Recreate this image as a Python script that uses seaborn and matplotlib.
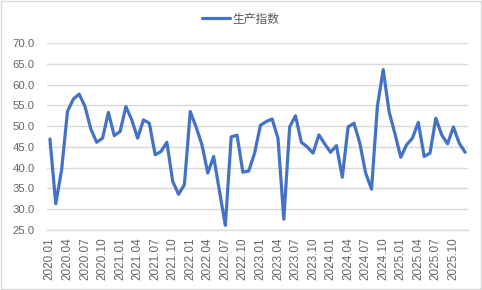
import numpy as np
import pandas as pd
import matplotlib
matplotlib.use("Agg")
import matplotlib.pyplot as plt
import seaborn as sns
from matplotlib.patches import Rectangle

# ---- data ----
months = [f"{y}.{m:02d}" for y in range(2020, 2026) for m in range(1, 13)]
values = [46.9, 31.3, 39.5, 53.5, 56.5, 57.7, 54.7, 49.3, 46.1, 47.1, 53.3, 47.7,
          48.7, 54.7, 51.5, 47.1, 51.5, 50.7, 43.1, 43.9, 46.1, 36.7, 33.6, 35.9,
          53.5, 49.8, 45.5, 38.7, 42.7, 34.3, 26.1, 47.4, 47.8, 38.9, 39.2, 43.5,
          50.2, 51.1, 51.7, 47.1, 27.6, 49.8, 52.5, 46.1, 45.0, 43.5, 47.9, 45.7,
          43.7, 45.3, 37.7, 49.8, 50.7, 45.9, 38.7, 34.8, 54.7, 63.6, 53.5, 48.2,
          42.5, 45.5, 47.1, 50.9, 42.7, 43.5, 51.9, 47.9, 45.7, 49.8, 45.9, 43.7]
series_name = "生产指数"
yticks = [25, 30, 35, 40, 45, 50, 55, 60, 65, 70]

df = pd.DataFrame({"idx": np.arange(len(months)), "month": months, "value": values})

sns.set_theme(style="white")
plt.rcParams["font.family"] = ["Liberation Sans", "Noto Sans CJK SC", "DejaVu Sans"]

fig = plt.figure(figsize=(4.82, 2.90), dpi=100)
ax = fig.add_axes([47 / 482, 1 - 230 / 290, (468 - 47) / 482, (230 - 43) / 290])

sns.lineplot(data=df, x="idx", y="value", ax=ax, color="#4472C4", linewidth=2.3,
             label=series_name, legend=False)

ax.set_xlim(-0.5, len(months) - 0.5)
ax.set_ylim(25, 70)
ax.set_yticks(yticks)
ax.set_yticklabels([f"{v:.1f}" for v in yticks])
tick_idx = list(range(0, len(months), 3))
ax.set_xticks(tick_idx)
ax.set_xticklabels([months[i] for i in tick_idx], rotation=90)
ax.set_xlabel("")
ax.set_ylabel("")

ax.grid(axis="y", color="#D9D9D9", linewidth=1.0)
ax.grid(axis="x", visible=False)
for s in ["left", "right", "top"]:
    ax.spines[s].set_visible(False)
ax.spines["bottom"].set_color("#D9D9D9")
ax.spines["bottom"].set_linewidth(1.0)
ax.tick_params(axis="both", colors="#666666", length=0)
ax.tick_params(axis="y", labelsize=8.2, pad=9)
ax.tick_params(axis="x", labelsize=8.5, pad=5.5)

handles, labels = ax.get_legend_handles_labels()
fig.legend(handles, labels, loc="center", bbox_to_anchor=(0.5, 1 - 19 / 290),
           frameon=False, fontsize=8.5, labelcolor="#595959", handlelength=2.3,
           handletextpad=0.25, prop={"family": ["Noto Sans CJK SC", "DejaVu Sans"], "size": 8.5})

fig.patches.append(Rectangle((0.002, 0.003), 0.995, 0.994, transform=fig.transFigure,
                             fill=False, edgecolor="#D9D9D9", linewidth=1.0))

fig.savefig("out.png", dpi=100)
